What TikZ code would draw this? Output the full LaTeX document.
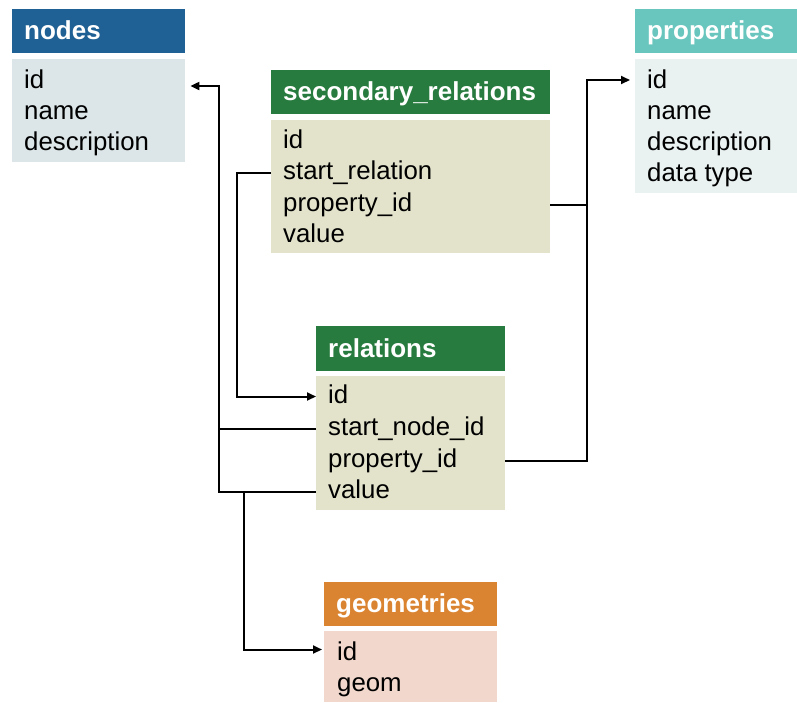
\documentclass[tikz,border=0pt]{standalone}
\usepackage{fontspec}
\setmainfont{Liberation Sans}
\usetikzlibrary{arrows.meta,calc}
\definecolor{nodeshead}{HTML}{1F6194}
\definecolor{nodesbody}{HTML}{DCE6E8}
\definecolor{relhead}{HTML}{287B3F}
\definecolor{relbody}{HTML}{E3E3CC}
\definecolor{prophead}{HTML}{68C6BE}
\definecolor{propbody}{HTML}{E9F1F1}
\definecolor{geohead}{HTML}{DA8431}
\definecolor{geobody}{HTML}{F2D8CC}
\begin{document}
\begin{tikzpicture}[x=1pt,y=-1pt,
  hdr/.style={anchor=north west, inner xsep=12pt, inner ysep=0pt, align=left,
    text=white, font=\fontsize{26pt}{31pt}\selectfont\bfseries,
    text height=17pt, text depth=0pt},
  tbody/.style={anchor=north west, inner sep=0pt},
  row/.style={anchor=base west, inner sep=0pt, font=\fontsize{25.8pt}{31pt}\selectfont,
    text height=18pt, text depth=5pt},
  line/.style={line width=2pt, draw=black},
  arr/.style={line, -{Triangle[length=9pt,width=8pt]}}]
\useasboundingbox (0,0) rectangle (797,702);

% nodes
\node[hdr, fill=nodeshead, text width=149pt, minimum height=44pt] (nh) at (12,9) {nodes};
\node[tbody, fill=nodesbody, minimum width=173pt, minimum height=103pt] (nb) at (12,59) {};
\node[row] (n-id) at (24,88) {id};
\node[row] (n-name) at (24,119) {name};
\node[row] (n-desc) at (24,150) {description};

% secondary_relations
\node[hdr, fill=relhead, text width=255pt, minimum height=44pt] (sh) at (271,70) {secondary\_relations};
\node[tbody, fill=relbody, minimum width=279pt, minimum height=133pt] (sb) at (271,120) {};
\node[row] (s-id) at (283,148) {id};
\node[row] (s-start) at (283,179.5) {start\_relation};
\node[row] (s-prop) at (283,211) {property\_id};
\node[row] (s-value) at (283,242.5) {value};

% relations
\node[hdr, fill=relhead, text width=165pt, minimum height=45pt] (rh) at (316,326) {relations};
\node[tbody, fill=relbody, minimum width=189pt, minimum height=134pt] (rb) at (316,376) {};
\node[row] (r-id) at (328,403) {id};
\node[row] (r-start) at (328,435) {start\_node\_id};
\node[row] (r-prop) at (328,467) {property\_id};
\node[row] (r-value) at (328,498) {value};

% properties
\node[hdr, fill=prophead, text width=138pt, minimum height=44pt] (ph) at (635,9) {properties};
\node[tbody, fill=propbody, minimum width=162pt, minimum height=134pt] (pb) at (635,59) {};
\node[row] (p-id) at (647,88) {id};
\node[row] (p-name) at (647,119) {name};
\node[row] (p-desc) at (647,150) {description};
\node[row] (p-type) at (647,181) {data type};

% geometries
\node[hdr, fill=geohead, text width=149pt, minimum height=44pt] (gh) at (324,582) {geometries};
\node[tbody, fill=geobody, minimum width=173pt, minimum height=71pt] (gb) at (324,631) {};
\node[row] (g-id) at (337,660) {id};
\node[row] (g-geom) at (337,691) {geom};

% junction columns
\coordinate (sx) at (237,0);
\coordinate (vx) at (219,0);
\coordinate (gx) at (244,0);
\coordinate (px) at (587,0);

% connectors
\draw[arr] (sb.west |- s-start) -- (sx |- s-start) |- (rb.west |- r-id);
\draw[arr] (rb.west |- r-value) -- (vx |- r-value) |- ($(nb.east |- n-id)+(5,4.5)$);
\draw[line] (rb.west |- r-start) -- (vx |- r-start);
\draw[arr] (gx |- r-value) |- ($(gb.west |- g-id)+(-2,-4)$);
\draw[arr] (rb.east |- r-prop) -- (px |- r-prop) |- ($(pb.west |- p-id)+(-5,-1.5)$);
\draw[line] (sb.east |- s-prop) -- (px |- s-prop);
\end{tikzpicture}
\end{document}
